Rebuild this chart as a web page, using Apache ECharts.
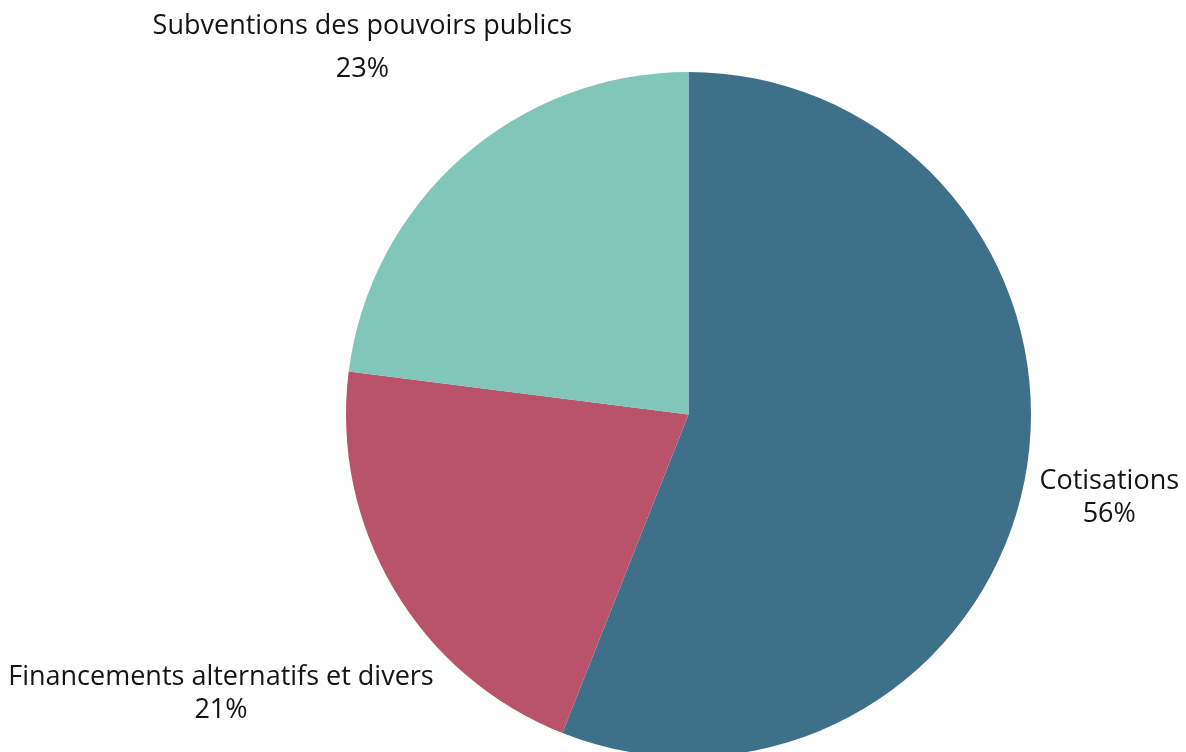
<!DOCTYPE html>
<html>
<head>
<meta charset="utf-8">
<script src="https://cdn.jsdelivr.net/npm/echarts@6/dist/echarts.min.js"></script>
<style>
html,body{margin:0;padding:0;background:#fff;}
#chart{width:1186px;height:752px;}
</style>
</head>
<body>
<div id="chart"></div>
<script>
const categories = ['Cotisations', 'Financements alternatifs et divers', 'Subventions des pouvoirs publics'];
const values = [56, 21, 23];
const colors = ['#3f7089', '#b9536c', '#80c6b9'];

const CX = 688.5, CY = 414.5, R = 342.5, GAP = 12;
const FONT = 27, LH = 33, LH_SUB = 43, YSHIFT = 3;
const total = values.reduce((a, b) => a + b, 0);

const chart = echarts.init(document.getElementById('chart'));

function midAngle(i) {
  let cum = 0;
  for (let k = 0; k < i; k++) cum += values[k];
  const frac = (cum + values[i] / 2) / total;
  return Math.PI / 2 - frac * 2 * Math.PI; // clockwise from top
}

chart.setOption({
  animation: false,
  backgroundColor: '#ffffff',
  series: [{
    type: 'pie',
    center: [CX, CY],
    radius: R,
    startAngle: 90,
    clockwise: true,
    avoidLabelOverlap: false,
    emphasis: { disabled: true },
    label: {
      show: true,
      position: 'outside',
      formatter: '{b}\n{c}%',
      fontFamily: 'Open Sans',
      fontSize: FONT,
      lineHeight: LH,
      color: '#141414',
      align: 'center'
    },
    labelLine: { show: false },
    labelLayout: function (p) {
      const a = midAngle(p.dataIndex);
      const ux = Math.cos(a), uy = -Math.sin(a);
      const lh = p.dataIndex === 2 ? LH_SUB : LH;
      const w = p.labelRect.width, h = p.labelRect.height - (lh - FONT);
      const sx = (ux >= 0 ? 1 : -1) * w / 2, sy = (uy >= 0 ? 1 : -1) * h / 2;
      const us = ux * sx + uy * sy;
      const Rr = R + GAP;
      const d = us + Math.sqrt(us * us - (sx * sx + sy * sy) + Rr * Rr);
      return { x: CX + ux * d, y: CY + uy * d + YSHIFT, align: 'center', verticalAlign: 'middle' };
    },
    data: categories.map((name, i) => ({
      name: name,
      value: values[i],
      itemStyle: { color: colors[i] },
      label: i === 2 ? { lineHeight: LH_SUB } : undefined
    }))
  }]
});
</script>
</body>
</html>
